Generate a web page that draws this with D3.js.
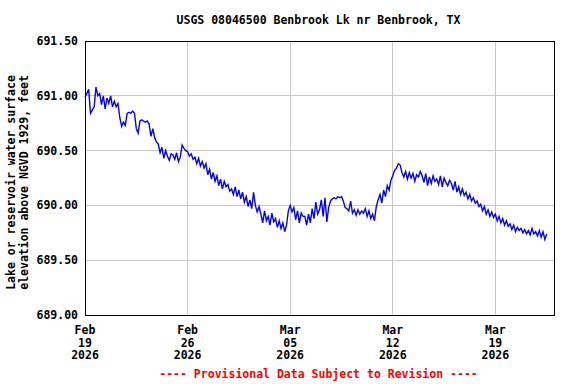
<!DOCTYPE html>
<html>
<head>
<meta charset="utf-8">
<script src="https://cdn.jsdelivr.net/npm/d3@7"></script>
<style>
  body { margin: 0; background: #fff; }
  svg { display: block; }
  text { font-family: "DejaVu Sans Mono", monospace; font-weight: bold; font-size: 11.5px; fill: #000; }
  .grid { stroke: #c8c8c8; stroke-width: 1; shape-rendering: crispEdges; }
  .frame { fill: none; stroke: #000; stroke-width: 1; shape-rendering: crispEdges; }
  .series { fill: none; stroke: #0000ff; stroke-width: 1.4; stroke-linejoin: miter; }
  .note { fill: #ff0000; }
</style>
</head>
<body>
<svg></svg>
<script>
///////////
// DATA  //
///////////

let title = "USGS 08046500 Benbrook Lk nr Benbrook, TX";
let yLabel = ["Lake or reservoir water surface", "elevation above NGVD 1929, feet"];
let footNote = "---- Provisional Data Subject to Revision ----";

let yTicks = [689.0, 689.5, 690.0, 690.5, 691.0, 691.5];
let xTicks = ["2026-02-19", "2026-02-26", "2026-03-05", "2026-03-12", "2026-03-19"];
let xDomain = ["2026-02-19", "2026-03-23"];

// gage height readings, every 3 hours from Feb 19 00:00
let firstReading = "2026-02-19T00:00:00Z";
let stepHours = 3;
let elevations = [
  // Feb 19
  690.99, 691.02, 691.06, 690.84, 690.87, 690.90, 691.08, 691.00,
  // Feb 20
  691.02, 690.92, 691.00, 690.88, 690.98, 690.93, 691.00, 690.90,
  // Feb 21
  690.95, 690.90, 690.93, 690.80, 690.72, 690.76, 690.73, 690.84,
  // Feb 22
  690.85, 690.84, 690.86, 690.84, 690.70, 690.66, 690.77, 690.78,
  // Feb 23
  690.77, 690.76, 690.77, 690.74, 690.63, 690.70, 690.62, 690.58,
  // Feb 24
  690.56, 690.48, 690.53, 690.43, 690.50, 690.45, 690.41, 690.47,
  // Feb 25
  690.46, 690.42, 690.48, 690.40, 690.44, 690.55, 690.52, 690.50,
  // Feb 26
  690.49, 690.45, 690.47, 690.42, 690.44, 690.38, 690.43, 690.36,
  // Feb 27
  690.40, 690.34, 690.38, 690.28, 690.33, 690.24, 690.30, 690.22,
  // Feb 28
  690.27, 690.18, 690.24, 690.15, 690.22, 690.17, 690.19, 690.13,
  // Mar 01
  690.15, 690.10, 690.17, 690.08, 690.14, 690.06, 690.12, 690.03,
  // Mar 02
  690.08, 689.99, 690.05, 689.97, 690.12, 690.00, 689.94, 689.99,
  // Mar 03
  689.92, 689.84, 689.95, 689.86, 689.90, 689.82, 689.93, 689.85,
  // Mar 04
  689.88, 689.80, 689.86, 689.79, 689.84, 689.76, 689.82, 689.95,
  // Mar 05
  690.00, 689.94, 689.98, 689.87, 689.95, 689.84, 689.93, 689.90,
  // Mar 06
  689.90, 689.82, 689.92, 689.84, 689.97, 689.88, 690.03, 689.92,
  // Mar 07
  689.96, 690.05, 689.90, 690.07, 689.85, 689.98, 690.04, 690.06,
  // Mar 08
  690.07, 690.06, 690.08, 690.07, 690.08, 690.04, 689.98, 689.97,
  // Mar 09
  689.95, 690.04, 689.93, 689.96, 689.91, 689.96, 689.92, 689.95,
  // Mar 10
  689.93, 689.97, 689.90, 689.95, 689.88, 689.92, 689.86, 689.99,
  // Mar 11
  690.05, 690.10, 690.02, 690.14, 690.08, 690.18, 690.14, 690.23,
  // Mar 12
  690.27, 690.32, 690.34, 690.38, 690.37, 690.30, 690.26, 690.31,
  // Mar 13
  690.24, 690.30, 690.25, 690.29, 690.22, 690.28, 690.26, 690.31,
  // Mar 14
  690.27, 690.21, 690.29, 690.18, 690.26, 690.20, 690.27, 690.22,
  // Mar 15
  690.24, 690.19, 690.27, 690.17, 690.25, 690.21, 690.18, 690.23,
  // Mar 16
  690.20, 690.14, 690.22, 690.12, 690.17, 690.10, 690.15, 690.09,
  // Mar 17
  690.12, 690.06, 690.10, 690.04, 690.07, 690.02, 690.04, 689.99,
  // Mar 18
  690.01, 689.95, 689.99, 689.92, 689.96, 689.90, 689.94, 689.89,
  // Mar 19
  689.92, 689.86, 689.90, 689.84, 689.88, 689.82, 689.86, 689.81,
  // Mar 20
  689.83, 689.78, 689.82, 689.76, 689.80, 689.77, 689.79, 689.75,
  // Mar 21
  689.78, 689.74, 689.77, 689.73, 689.79, 689.74, 689.76, 689.72,
  // Mar 22
  689.77, 689.71, 689.76, 689.69, 689.74
];

//////////////
// GRAPHICS //
//////////////

let width = 576, height = 384;
let plot = { left: 85, right: 554, top: 41, bottom: 315 };

let svg = d3.select("svg")
  .attr("width", width)
  .attr("height", height)
  ;

let t0 = new Date(firstReading).getTime();
let readings = elevations.map((v, i) => {
  return { date: new Date(t0 + i * stepHours * 3600 * 1000), value: v };
});

let x = d3.scaleUtc()
  .domain(xDomain.map(d => new Date(d + "T00:00:00Z")))
  .range([plot.left, plot.right])
  ;

let y = d3.scaleLinear()
  .domain([yTicks[0], yTicks[yTicks.length - 1]])
  .range([plot.bottom, plot.top])
  ;

let tickDates = xTicks.map(d => new Date(d + "T00:00:00Z"));
let fmtMon = d3.utcFormat("%b");
let fmtDay = d3.utcFormat("%d");
let fmtYear = d3.utcFormat("%Y");

// grid lines
svg.append("g")
  .selectAll("line")
  .data(yTicks.slice(1, -1))
  .enter()
  .append("line")
  .classed("grid", true)
  .attr("x1", plot.left)
  .attr("x2", plot.right)
  .attr("y1", d => y(d))
  .attr("y2", d => y(d))
  ;

svg.append("g")
  .selectAll("line")
  .data(tickDates.slice(1))
  .enter()
  .append("line")
  .classed("grid", true)
  .attr("x1", d => x(d))
  .attr("x2", d => x(d))
  .attr("y1", plot.top)
  .attr("y2", plot.bottom)
  ;

// series
let line = d3.line()
  .x(d => x(d.date))
  .y(d => y(d.value))
  ;

svg.append("path")
  .datum(readings)
  .classed("series", true)
  .attr("d", line)
  ;

// frame
svg.append("rect")
  .classed("frame", true)
  .attr("x", plot.left)
  .attr("y", plot.top)
  .attr("width", plot.right - plot.left)
  .attr("height", plot.bottom - plot.top)
  ;

// y tick labels
svg.append("g")
  .selectAll("text")
  .data(yTicks)
  .enter()
  .append("text")
  .attr("x", 78)
  .attr("y", d => y(d) + 4)
  .attr("text-anchor", "end")
  .text(d => d3.format(".2f")(d))
  ;

// x tick labels, three lines each
let xLab = svg.append("g")
  .selectAll("text")
  .data(tickDates)
  .enter()
  .append("text")
  .attr("text-anchor", "middle")
  ;
xLab.append("tspan").attr("x", d => x(d)).attr("y", 334).text(d => fmtMon(d));
xLab.append("tspan").attr("x", d => x(d)).attr("y", 346.5).text(d => fmtDay(d));
xLab.append("tspan").attr("x", d => x(d)).attr("y", 359).text(d => fmtYear(d));

// title
svg.append("text")
  .attr("x", 318.5)
  .attr("y", 24)
  .attr("text-anchor", "middle")
  .text(title)
  ;

// y axis label
let yl = svg.append("text")
  .attr("transform", "translate(0, 182.5) rotate(-90)")
  .attr("text-anchor", "middle")
  ;
yl.append("tspan").attr("x", 0).attr("y", 15).text(yLabel[0]);
yl.append("tspan").attr("x", 0).attr("y", 28).text(yLabel[1]);

// provisional note
svg.append("text")
  .classed("note", true)
  .attr("x", 318.5)
  .attr("y", 378)
  .attr("text-anchor", "middle")
  .text(footNote)
  ;
</script>
</body>
</html>
